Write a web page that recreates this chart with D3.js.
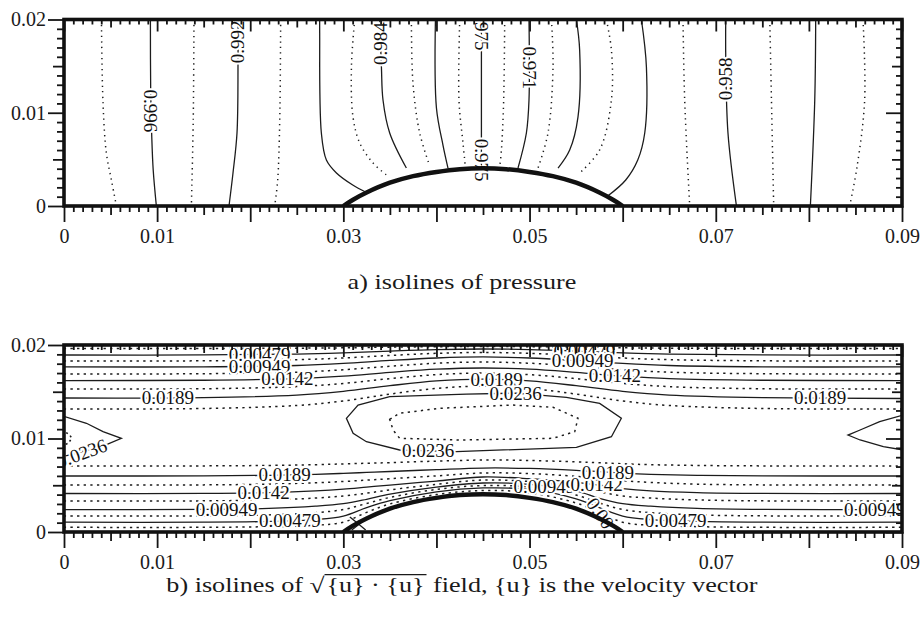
<!DOCTYPE html>
<html>
<head>
<meta charset="utf-8">
<script src="https://cdn.jsdelivr.net/npm/d3@7"></script>
<style>
  body { margin: 0; background: #fff; }
  svg { display: block; }
  svg text { font-family: "Liberation Serif", "Times New Roman", Tinos, Times, "Nimbus Roman", serif; }
  .tick line { stroke: #141414; stroke-width: 1.8; }
  .tick text { font-size: 20px; fill: #1a1a1a; }
</style>
</head>
<body>
<svg id="fig" width="923" height="624"></svg>
<script>
// all coordinates below are in mm (1 mm = 0.001 on the axes)
var MM = 0.001;
var FONT = '"Liberation Serif", "Times New Roman", Tinos, Times, serif';

// axis ticks
var xMajor = [0, 10, 20, 30, 40, 50, 60, 70, 80, 90];
var xLabelled = [0, 10, 30, 50, 70, 90];
var xTickText = ["0", "0.01", "0.03", "0.05", "0.07", "0.09"];
var yMajor = [0, 10, 20];
var yTickText = ["0", "0.01", "0.02"];

// the bump on the lower wall
var bumpX = [30, 31, 32.5, 35, 37.5, 40, 42.5, 45, 47.5, 50, 52.5, 55, 57.5, 59, 60];
var bumpY = [0, 0.65, 1.45, 2.5, 3.2, 3.65, 3.95, 4.05, 3.95, 3.65, 3.2, 2.5, 1.45, 0.65, 0];

// a) pressure isolines, read left to right (dot = dotted line)
var pressureLines = [
  { dot: 1, pts: [[4.02, 20], [4.19, 11.05], [4.55, 5.68], [5.09, 2.79], [5.63, 0]] },
  { dot: 0, pts: [[9.28, 20], [9.31, 12.44], [9.42, 7.61], [9.58, 3.86], [9.92, 0]] },
  { dot: 1, pts: [[13.96, 20], [13.88, 9.22], [13.68, 0]] },
  { dot: 0, pts: [[18.69, 20], [18.69, 15.34], [18.58, 7.83], [18.15, 3.54], [17.72, 0]] },
  { dot: 1, pts: [[23.27, 20], [23.17, 9.22], [22.95, 2.79], [22.63, 0]] },
  { dot: 0, pts: [[27.46, 20], [27.46, 18.55], [27.64, 7.83], [28.18, 4.93], [29.26, 3.54], [31.01, 2.25], [32.4, 1.5]] },
  { dot: 1, pts: [[31.22, 20], [30.87, 14.91], [31.04, 9.54], [31.76, 6.76], [33.19, 4.61], [34.77, 3.22]] },
  { dot: 0, pts: [[33.91, 20], [34.09, 14.91], [34.26, 11.37], [34.98, 7.83], [36.77, 4.07]] },
  { dot: 1, pts: [[37.31, 20], [37.48, 13.19], [38.2, 7.83], [39.28, 4.29]] },
  { dot: 0, pts: [[39.89, 20], [40, 10.51], [40.7, 6.54], [41.24, 4.07]] },
  { dot: 1, pts: [[42.5, 20], [42.42, 11.37], [42.85, 6.76], [43.11, 4.18]] },
  { dot: 0, pts: [[44.83, 20], [44.83, 4.05]] },
  { dot: 1, pts: [[47.33, 20], [47.22, 11.37], [46.98, 6.01], [46.79, 4.18]] },
  { dot: 0, pts: [[49.94, 20], [49.94, 11.37], [49.66, 7.83], [48.76, 4.07]] },
  { dot: 1, pts: [[52.35, 20], [52.52, 14.91], [51.98, 7.83], [50.91, 4.07]] },
  { dot: 0, pts: [[55.03, 20], [55.38, 16.73], [55.2, 9.54], [54.31, 6.01], [53.06, 4.07]] },
  { dot: 1, pts: [[58.25, 20], [58.79, 16.73], [58.79, 11.37], [57.53, 6.01], [55.38, 3.54]] },
  { dot: 0, pts: [[62.01, 20], [62.55, 14.91], [62.37, 7.83], [61.62, 4.93], [60.33, 2.79], [58.39, 1.07]] },
  { dot: 1, pts: [[66.48, 20], [66.66, 11.37], [67.2, 0]] },
  { dot: 0, pts: [[71.07, 20], [71.07, 15.98], [71.31, 7.83], [72.22, 0]] },
  { dot: 1, pts: [[75.8, 20], [75.98, 11.37], [76.22, 0]] },
  { dot: 0, pts: [[80.73, 20], [80.63, 11.37], [80.16, 0]] },
  { dot: 1, pts: [[85.81, 20], [85.99, 11.37], [85.17, 4.18], [84.38, 0]] }
];
// [text, x, y, rotation]
var pressureLabels = [
  ["0.996", 9.3, 10.2, 90],
  ["0.992", 18.69, 17.6, -90],
  ["0.984", 33.95, 17.4, -90],
  ["0.975", 44.83, 18.98, 90],
  ["0.975", 44.83, 4.93, 90],
  ["0.971", 49.94, 14.8, 90],
  ["0.958", 71.07, 13.62, -90]
];

// b) velocity magnitude isolines
// upper band, from the top wall downwards
var topX = [0, 15, 25, 30, 35, 40, 45, 50, 55, 60, 65, 75, 90];
var topDot = [1, 0, 1, 0, 1, 0, 1, 0, 1];
var topY = [
  [19.63, 19.63, 19.66, 19.70, 19.77, 19.82, 19.84, 19.82, 19.77, 19.70, 19.66, 19.63, 19.63],
  [18.93, 18.94, 19.03, 19.15, 19.35, 19.51, 19.57, 19.51, 19.35, 19.15, 19.03, 18.94, 18.93],
  [18.29, 18.31, 18.43, 18.61, 18.88, 19.11, 19.2, 19.11, 18.88, 18.61, 18.43, 18.31, 18.29],
  [17.65, 17.67, 17.81, 18.03, 18.35, 18.61, 18.72, 18.61, 18.35, 18.03, 17.81, 17.67, 17.65],
  [16.9, 16.93, 17.09, 17.35, 17.73, 18.05, 18.18, 18.05, 17.73, 17.35, 17.09, 16.93, 16.9],
  [16.2, 16.23, 16.4, 16.67, 17.07, 17.41, 17.54, 17.41, 17.07, 16.67, 16.4, 16.23, 16.2],
  [15.29, 15.32, 15.55, 15.89, 16.4, 16.83, 17.0, 16.83, 16.4, 15.89, 15.55, 15.32, 15.29],
  [14.33, 14.37, 14.64, 15.04, 15.65, 16.16, 16.36, 16.16, 15.65, 15.04, 14.64, 14.37, 14.28],
  [13.16, 13.21, 13.53, 14.01, 14.75, 15.36, 15.6, 15.36, 14.75, 14.01, 13.53, 13.21, 13.16]
];
// lower band, from the bottom wall upwards
var botX = [0, 15, 22, 27, 30, 32.5, 35, 40, 45, 50, 55, 57.5, 60, 63, 68, 75, 90];
var botDot = [1, 0, 1, 0, 1, 0, 1, 0, 1];
var botY = [
  [0.5, 0.5, 0.57, 0.72, 1.05, 2.1, 3.0, 4.0, 4.44, 4.2, 3.1, 2.1, 1.05, 0.72, 0.57, 0.5, 0.5],
  [1.05, 1.05, 1.13, 1.33, 1.7, 2.6, 3.35, 4.3, 4.71, 4.55, 3.55, 2.6, 1.7, 1.33, 1.13, 1.05, 1.05],
  [1.72, 1.73, 1.83, 2.07, 2.4, 3.05, 3.7, 4.55, 4.97, 4.8, 3.95, 3.1, 2.4, 2.07, 1.83, 1.73, 1.72],
  [2.4, 2.41, 2.52, 2.76, 3.03, 3.5, 4.05, 4.8, 5.24, 5.1, 4.4, 3.6, 3.03, 2.76, 2.52, 2.41, 2.4],
  [3.32, 3.33, 3.43, 3.63, 3.85, 4.15, 4.5, 5.1, 5.56, 5.4, 4.85, 4.3, 3.85, 3.63, 3.43, 3.33, 3.32],
  [4.12, 4.13, 4.22, 4.4, 4.58, 4.8, 5.02, 5.45, 5.88, 5.7, 5.3, 5.0, 4.65, 4.4, 4.22, 4.13, 4.12],
  [5.03, 5.04, 5.12, 5.27, 5.4, 5.55, 5.7, 6.0, 6.31, 6.25, 5.95, 5.75, 5.5, 5.3, 5.12, 5.04, 5.03],
  [5.99, 6.0, 6.06, 6.17, 6.27, 6.37, 6.47, 6.67, 6.84, 6.8, 6.6, 6.45, 6.3, 6.17, 6.06, 6.0, 5.99],
  [7.06, 7.07, 7.12, 7.2, 7.28, 7.35, 7.42, 7.58, 7.7, 7.65, 7.5, 7.4, 7.3, 7.2, 7.12, 7.07, 7.06]
];
// closed core contours and the wedges at the in/outflow
var hexOuter = [[30.33, 12.16], [31.58, 13.58], [34.98, 14.47], [43.22, 14.75], [48.5, 14.85], [53.96, 14.4],
  [57.53, 13.76], [59.86, 12.16], [58.79, 10.19], [55.03, 9.06], [42.14, 8.59], [36.05, 8.77], [32.48, 9.66], [31.05, 10.56]];
var hexInner = [[34.98, 12.05], [36.05, 12.7], [40.35, 13.23], [48.22, 13.58], [52.52, 13.34], [55.2, 12.16],
  [54.85, 10.73], [52.52, 10.02], [42.5, 9.84], [36.05, 10.02], [35.34, 10.91]];
var wedgeLeft = [[-0.3, 12.45], [2.41, 11.63], [4.19, 10.73], [6.16, 10.02], [4.69, 9.41], [2.55, 8.77], [-0.3, 8.0]];
var wedgeLeftInner = [[-0.2, 10.95], [0.61, 10.37], [0.83, 10.05], [0.5, 9.52], [-0.2, 9.2]];
var wedgeRight = [[90.3, 12.55], [87.6, 11.8], [85.5, 10.91], [84.2, 10.37], [85.5, 9.84], [88.0, 9.12], [90.3, 8.75]];
var footLines = [
  [[30.7, 1.6], [31.5, 0.95], [32.4, 0.21]],
  [[30.9, 0.21], [31.8, 0.9], [32.6, 1.5]]
];
var velocityLabels = [
  ["0.00479", 21.0, 18.99, 0],
  ["0.00949", 21.0, 17.75, 0],
  ["0.0142", 24.0, 16.38, 0],
  ["0.0189", 11.15, 14.36, 0],
  ["0.00479", 55.9, 19.31, 0],
  ["0.00949", 55.7, 18.3, 0],
  ["0.0142", 59.15, 16.74, 0],
  ["0.0189", 46.47, 16.3, 0],
  ["0.0236", 48.5, 14.85, 0],
  ["0.0189", 81.2, 14.33, 0],
  ["0.0236", 1.9, 8.4, -20],
  ["0.0236", 39.1, 8.68, 0],
  ["0.0189", 23.7, 6.1, 0],
  ["0.0142", 21.45, 4.21, 0],
  ["0.00949", 17.47, 2.45, 0],
  ["0.00479", 24.25, 1.25, 0],
  ["0.00949", 51.6, 4.88, 0],
  ["0.0142", 57.2, 5.04, 0],
  ["0.0189", 58.4, 6.4, 0],
  ["0.00479", 65.7, 1.21, 0],
  ["0.00949", 87.1, 2.41, 0],
  ["0.00", 57.6, 2.0, 55]
];

var captionA = "a) isolines of pressure";
var captionB = ["b) isolines of\u00a0", "{u}\u00a0\u00b7\u00a0{u}", "\u00a0field, {u} is the velocity vector"];

var svg = d3.select("#fig");
svg.append("rect").attr("width", 923).attr("height", 624).attr("fill", "#fff");

var x = d3.scaleLinear().domain([0, 0.09]).range([64, 902]);
var yA = d3.scaleLinear().domain([0, 0.02]).range([206, 19.5]);
var yB = d3.scaleLinear().domain([0, 0.02]).range([532, 345]);

function smooth(y) {
  return d3.line().x(d => x(d[0] * MM)).y(d => y(d[1] * MM)).curve(d3.curveCatmullRom.alpha(0.5));
}
function poly(y, closed) {
  return d3.line().x(d => x(d[0] * MM)).y(d => y(d[1] * MM)).curve(closed ? d3.curveLinearClosed : d3.curveLinear);
}
function styleLine(sel, dot, dash) {
  sel.attr("fill", "none").attr("stroke", "#1c1c1c")
    .attr("stroke-width", dot ? 1.5 : 1.3)
    .attr("stroke-dasharray", dot ? dash : null);
}

function makePanel(id, y) {
  var top = y.range()[1], bot = y.range()[0];
  svg.append("clipPath").attr("id", id)
    .append("rect").attr("x", 64).attr("y", top).attr("width", 838).attr("height", bot - top);
  return svg.append("g").attr("clip-path", `url(#${id})`);
}

function addLabels(g, y, list) {
  g.selectAll(null).data(list).join("text")
    .attr("transform", d => `translate(${x(d[1] * MM)},${y(d[2] * MM)}) rotate(${d[3]})`)
    .attr("text-anchor", "middle")
    .attr("dy", "0.34em")
    .style("font-family", FONT)
    .attr("font-size", 19)
    .attr("fill", "#111")
    .attr("stroke", "#fff")
    .attr("stroke-width", 4)
    .attr("paint-order", "stroke")
    .text(d => d[0]);
}

function addBump(g, y) {
  var pts = bumpX.map((v, i) => [v, bumpY[i]]);
  g.append("path").attr("d", smooth(y)(pts))
    .attr("fill", "none").attr("stroke", "#111").attr("stroke-width", 4.5);
}

function addAxes(y) {
  var top = y.range()[1], bot = y.range()[0];
  var none = () => "";
  var minX = d3.range(0, 91).filter(v => v % 5).map(v => v * MM);
  var midX = d3.range(5, 91, 10).map(v => v * MM);
  var majX = xMajor.map(v => v * MM);
  var minY = d3.range(0, 21).filter(v => v % 5).map(v => v * MM);
  var midY = [5, 15].map(v => v * MM);
  var majY = yMajor.map(v => v * MM);
  var fmtX = d => { var i = xLabelled.indexOf(Math.round(d / MM)); return i < 0 ? "" : xTickText[i]; };
  var fmtY = d => { var i = yMajor.indexOf(Math.round(d / MM)); return i < 0 ? "" : yTickText[i]; };

  var specs = [
    [d3.axisBottom(x).tickValues(minX).tickSize(6).tickFormat(none), 0, bot],
    [d3.axisBottom(x).tickValues(midX).tickSize(9).tickFormat(none), 0, bot],
    [d3.axisBottom(x).tickValues(majX).tickSize(16).tickPadding(7).tickFormat(fmtX), 0, bot],
    [d3.axisTop(x).tickValues(minX).tickSize(-5).tickFormat(none), 0, top],
    [d3.axisTop(x).tickValues(midX).tickSize(-8).tickFormat(none), 0, top],
    [d3.axisTop(x).tickValues(majX).tickSize(-12).tickFormat(none), 0, top],
    [d3.axisLeft(y).tickValues(minY).tickSize(7).tickFormat(none), 64, 0],
    [d3.axisLeft(y).tickValues(midY).tickSize(11).tickFormat(none), 64, 0],
    [d3.axisLeft(y).tickValues(majY).tickSize(16).tickPadding(2).tickFormat(fmtY), 64, 0],
    [d3.axisRight(y).tickValues(minY).tickSize(-6).tickFormat(none), 902, 0],
    [d3.axisRight(y).tickValues(midY).tickSize(-10).tickFormat(none), 902, 0],
    [d3.axisRight(y).tickValues(majY).tickSize(-16).tickFormat(none), 902, 0]
  ];
  specs.forEach(s => {
    svg.append("g")
      .attr("transform", `translate(${s[1]},${s[2]})`)
      .call(s[0])
      .call(g => g.select(".domain").remove())
      .call(g => g.attr("font-family", null).attr("font-size", null));
  });

  svg.append("rect")
    .attr("x", 64).attr("y", top).attr("width", 838).attr("height", bot - top)
    .attr("fill", "none").attr("stroke", "#111").attr("stroke-width", 3.6);
}

// ---- panel a
var gA = makePanel("clipA", yA);
pressureLines.forEach(c => {
  gA.append("path").attr("d", smooth(yA)(c.pts)).call(styleLine, c.dot, "1.3,4.2");
});
addLabels(gA, yA, pressureLabels);
addBump(gA, yA);
addAxes(yA);

// ---- panel b
var gB = makePanel("clipB", yB);
topY.forEach((ys, k) => {
  gB.append("path").attr("d", smooth(yB)(topX.map((v, i) => [v, ys[i]]))).call(styleLine, topDot[k], "2.3,4.3");
});
botY.forEach((ys, k) => {
  gB.append("path").attr("d", smooth(yB)(botX.map((v, i) => [v, ys[i]]))).call(styleLine, botDot[k], "2.3,4.3");
});
gB.append("path").attr("d", poly(yB, true)(hexOuter)).call(styleLine, 0);
gB.append("path").attr("d", poly(yB, true)(hexInner)).call(styleLine, 1, "2.3,4.3");
gB.append("path").attr("d", poly(yB)(wedgeLeft)).call(styleLine, 0);
gB.append("path").attr("d", poly(yB)(wedgeLeftInner)).call(styleLine, 1, "2,3");
gB.append("path").attr("d", poly(yB)(wedgeRight)).call(styleLine, 0);
footLines.forEach(f => gB.append("path").attr("d", poly(yB)(f)).call(styleLine, 0));
addLabels(gB, yB, velocityLabels);
addBump(gB, yB);
addAxes(yB);

// ---- captions
var capSize = 21;
var capA = svg.append("text")
  .style("font-family", FONT).attr("font-size", capSize).attr("fill", "#1a1a1a")
  .attr("text-anchor", "middle")
  .text(captionA);
var sx = 229 / capA.node().getComputedTextLength();
capA.attr("transform", `translate(462,289) scale(${sx},1)`);

var capB = svg.append("g").attr("font-size", capSize).attr("fill", "#1a1a1a");
var cx = 0;
var t1 = capB.append("text").style("font-family", FONT).attr("x", cx).text(captionB[0]);
cx += t1.node().getComputedTextLength();
var rad = capB.append("text").style("font-family", FONT).attr("x", cx).attr("y", 1).attr("font-size", 22).text("\u221a");
var rb = rad.node().getBBox();
cx = rb.x + rb.width - 0.5;
var t2 = capB.append("text").style("font-family", FONT).attr("x", cx + 1).text(captionB[1]);
var w2 = t2.node().getComputedTextLength();
capB.append("line")
  .attr("x1", cx - 0.5).attr("x2", cx + w2 + 2.5).attr("y1", rb.y + 1.6).attr("y2", rb.y + 1.6)
  .attr("stroke", "#1a1a1a").attr("stroke-width", 1.1);
cx += w2 + 2.5;
var t3 = capB.append("text").style("font-family", FONT).attr("x", cx).text(captionB[2]);
cx += t3.node().getComputedTextLength();
capB.attr("transform", `translate(${462 - cx * sx / 2},592) scale(${sx},1)`);
</script>
</body>
</html>
